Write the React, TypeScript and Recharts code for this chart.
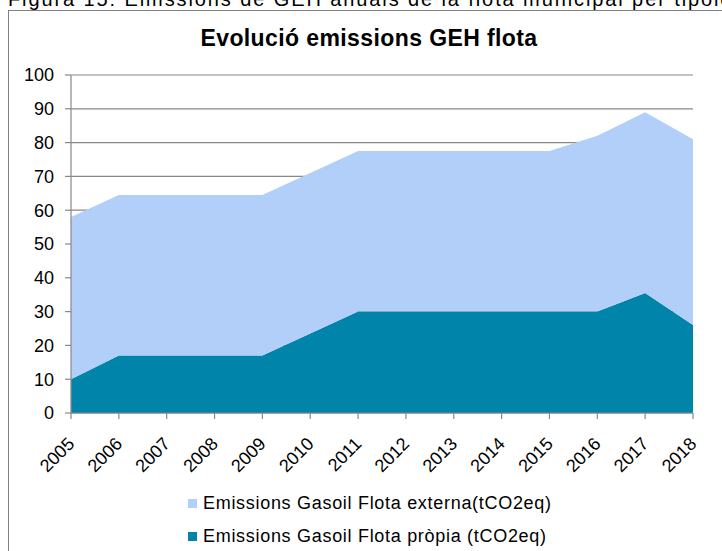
import React from 'react'
import { AreaChart, Area, XAxis, YAxis, CartesianGrid, Legend } from 'recharts'

const years = ['2005', '2006', '2007', '2008', '2009', '2010', '2011', '2012', '2013', '2014', '2015', '2016', '2017', '2018']
const flotaPropia = [10, 17, 17, 17, 17, 23.5, 30, 30, 30, 30, 30, 30, 35.5, 26]
const flotaExterna = [48, 47.5, 47.5, 47.5, 47.5, 47.5, 47.5, 47.5, 47.5, 47.5, 47.5, 52, 53.5, 55]
const yTicks = [0, 10, 20, 30, 40, 50, 60, 70, 80, 90, 100]

const namePropia = 'Emissions Gasoil Flota pròpia (tCO2eq)'
const nameExterna = 'Emissions Gasoil Flota externa(tCO2eq)'

const data = years.map((year, i) => ({
  year,
  propia: flotaPropia[i],
  externa: flotaExterna[i],
}))

const FONT = '"Liberation Sans", Arial, sans-serif'
const GREY = '#888888'
const DARK = '#0084A9'
const LIGHT = '#B1CFF9'

const YearTick = (props: any) => {
  const { x, y, payload } = props
  return (
    <g transform={`translate(${x + 4.5},${y + 24})`}>
      <text x={0} y={0} textAnchor="end" transform="rotate(-45)" fontSize={18} fontFamily={FONT} fill="#000">
        {payload.value}
      </text>
    </g>
  )
}

const LegendBox = (props: any) => {
  const items = props.payload || []
  return (
    <div style={{ fontFamily: FONT, fontSize: 18, letterSpacing: 0.7, color: '#000' }}>
      {items.map((it: any) => (
        <div key={it.value} style={{ display: 'flex', alignItems: 'center', height: 33, lineHeight: '33px', whiteSpace: 'nowrap' }}>
          <span style={{ display: 'inline-block', width: 9, height: 9, background: it.color, marginRight: 6 }} />
          {it.value}
        </div>
      ))}
    </div>
  )
}

export default function App() {
  return (
    <div style={{ position: 'absolute', left: 0, top: 0, width: 722, height: 551, overflow: 'hidden', background: '#fff', fontFamily: FONT }}>
      <div style={{ position: 'absolute', left: 8, top: -11, fontSize: 20, lineHeight: '20px', letterSpacing: 1.9, whiteSpace: 'nowrap', color: '#000' }}>
        Figura 15: Emissions de GEH anuals de la flota municipal per tipologia
      </div>
      <div style={{ position: 'absolute', left: 8, top: 10, width: 760, height: 600, border: '1px solid #808080' }} />
      <div style={{ position: 'absolute', left: 369, top: 27, transform: 'translateX(-50%)', fontSize: 23, lineHeight: '23px', fontWeight: 'bold', letterSpacing: 0.4, whiteSpace: 'nowrap', color: '#000' }}>
        Evolució emissions GEH flota
      </div>
      <div style={{ position: 'absolute', left: 0, top: 0 }}>
        <AreaChart width={722} height={551} data={data} margin={{ top: 75, right: 29, left: 0, bottom: 78 }}>
          <CartesianGrid vertical={false} stroke={GREY} strokeWidth={1.2} />
          <XAxis
            dataKey="year"
            interval={0}
            height={60}
            tickSize={6}
            tickMargin={2}
            stroke={GREY}
            strokeWidth={1.2}
            tick={<YearTick />}
          />
          <YAxis
            domain={[0, 100]}
            ticks={yTicks}
            width={71}
            tickSize={6}
            tickMargin={11}
            stroke={GREY}
            strokeWidth={1.2}
            tick={{ fill: '#000', fontSize: 18, fontFamily: FONT }}
            interval={0}
          />
          <Legend
            layout="vertical"
            align="center"
            verticalAlign="middle"
            wrapperStyle={{ top: 487, left: 188, width: 'auto' }}
            content={<LegendBox />}
          />
          <Area type="linear" dataKey="propia" name={namePropia} stackId="1" stroke="none" fill={DARK} fillOpacity={1} isAnimationActive={false} />
          <Area type="linear" dataKey="externa" name={nameExterna} stackId="1" stroke="none" fill={LIGHT} fillOpacity={1} isAnimationActive={false} />
        </AreaChart>
      </div>
    </div>
  )
}
